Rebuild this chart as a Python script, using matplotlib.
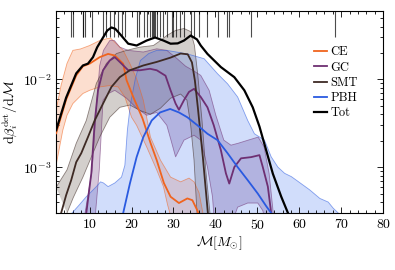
import numpy as np
import matplotlib
matplotlib.use("Agg")
import matplotlib.pyplot as plt
from matplotlib.ticker import MultipleLocator, LogLocator, NullFormatter
import matplotlib.transforms as mtransforms

plt.rcParams["font.family"] = "serif"
plt.rcParams["font.serif"] = ["cmr10", "DejaVu Serif"]
plt.rcParams["mathtext.fontset"] = "cm"
plt.rcParams["axes.formatter.use_mathtext"] = True

# ---------------------------------------------------------------------------
# Data  (chirp mass in M_sun, dbeta/dM)
# ---------------------------------------------------------------------------
rug_M = [5.6, 6.0, 8.3, 8.5, 8.8, 10.5, 13.3, 14.0, 14.9, 15.8, 16.7, 17.8,
         18.5, 21.2, 21.8, 22.9, 23.7, 24.5, 24.8, 25.1, 25.4, 25.7, 26.0,
         26.8, 27.6, 28.5, 29.6, 30.0, 30.5, 31.6, 32.5, 34.1, 34.8, 36.2,
         38.1, 40.5, 42.7, 43.3, 48.5, 68.5]

tot_M = [2.0, 4.4, 6.8, 8.4, 9.6, 10.8, 11.8, 13.2, 14.2, 15.2, 16.1, 17.2,
         19.2, 21.2, 23.6, 25.6, 27.6, 29.3, 31.0, 32.5, 34.1, 35.6, 36.5,
         38.1, 41.3, 44.5, 46.9, 48.9, 50.5, 52.1, 53.7, 55.7, 57.3]
tot_v = [2.63e-3, 6.2e-3, 1.17e-2, 1.44e-2, 1.51e-2, 1.79e-2, 2.32e-2, 3.0e-2,
         3.6e-2, 3.9e-2, 3.77e-2, 3.3e-2, 2.55e-2, 2.43e-2, 2.77e-2, 3.0e-2,
         2.77e-2, 2.55e-2, 2.57e-2, 2.77e-2, 3.16e-2, 2.85e-2, 2.43e-2,
         1.95e-2, 1.38e-2, 1.06e-2, 7.5e-3, 4.8e-3, 2.9e-3, 1.56e-3, 8.4e-4,
         4.6e-4, 3.0e-4]

ce_M = [2.0, 4.4, 6.8, 8.4, 10.0, 12.4, 14.4, 16.0, 18.0, 18.8, 20.4, 22.6,
        24.5, 26.0, 27.7, 29.3, 31.3, 33.3, 34.5, 35.7, 36.3]
ce_v = [2.43e-3, 5.9e-3, 1.11e-2, 1.41e-2, 1.51e-2, 1.79e-2, 1.95e-2, 1.87e-2,
        1.51e-2, 9.8e-3, 6.3e-3, 3.6e-3, 1.9e-3, 1.2e-3, 6.6e-4, 4.6e-4,
        3.9e-4, 4.4e-4, 4.2e-4, 3.2e-4, 2.6e-4]
ce_hi_M = [2.0, 3.2, 4.6, 6.0, 7.8, 10.0, 12.4, 14.0, 15.0, 16.0, 18.0, 19.6,
           21.2, 22.8, 23.6, 24.5, 26.9, 29.3, 31.7, 33.7, 34.9, 36.1, 36.9,
           37.3]
ce_hi_v = [4.45e-3, 8.6e-3, 1.52e-2, 2.14e-2, 2.22e-2, 2.43e-2, 2.77e-2,
           2.9e-2, 2.95e-2, 2.65e-2, 2.14e-2, 1.51e-2, 1.02e-2, 5.8e-3, 3.7e-3,
           2.2e-3, 1.2e-3, 7.7e-4, 6.8e-4, 7.5e-4, 6.8e-4, 5.1e-4, 3.2e-4,
           2.5e-4]
ce_lo_M = [2.0, 3.6, 4.6, 6.0, 8.4, 10.0, 12.4, 14.8, 16.8, 18.4, 20.0, 21.2,
           23.6, 26.0, 27.6, 28.6, 29.3]
ce_lo_v = [1.05e-3, 2.63e-3, 3.9e-3, 5.3e-3, 6.9e-3, 7.5e-3, 8.2e-3, 8.5e-3,
           8.2e-3, 6.3e-3, 3.7e-3, 3.0e-3, 1.7e-3, 9.3e-4, 6.0e-4, 3.7e-4,
           2.8e-4]

gc_M = [9.2, 10.4, 11.2, 12.0, 13.2, 14.8, 16.0, 17.6, 19.2, 22.0, 24.4, 26.0,
        28.1, 29.3, 30.5, 31.3, 32.5, 33.7, 34.9, 36.5, 38.1, 39.6, 41.3,
        42.5, 43.3, 44.5, 46.1, 48.5, 50.5, 51.3, 52.5, 53.3]
gc_v = [3.0e-4, 8.5e-4, 3.2e-3, 7.5e-3, 1.27e-2, 1.64e-2, 1.79e-2, 1.51e-2,
        1.27e-2, 1.27e-2, 1.32e-2, 1.27e-2, 1.1e-2, 7.5e-3, 5.3e-3, 4.5e-3,
        5.8e-3, 7.2e-3, 7.8e-3, 6.3e-3, 4.8e-3, 3.0e-3, 1.56e-3, 8.5e-4,
        6.5e-4, 1.0e-3, 1.26e-3, 1.3e-3, 1.37e-3, 1.0e-3, 6.0e-4, 3.0e-4]
gc_hi_M = [8.9, 10.6, 11.6, 12.4, 13.3, 14.8, 15.9, 17.2, 19.2, 22.8, 26.0,
           28.4, 30.8, 32.9, 34.6, 36.5, 38.5, 40.1, 42.0, 43.7, 45.4, 47.8,
           50.2, 51.6, 52.8, 53.8]
gc_hi_v = [3.0e-4, 9.3e-4, 4.8e-3, 1.44e-2, 2.14e-2, 2.77e-2, 2.77e-2,
           2.33e-2, 2.14e-2, 2.05e-2, 2.23e-2, 2.14e-2, 1.73e-2, 1.41e-2,
           1.27e-2, 1.11e-2, 7.5e-3, 3.9e-3, 2.03e-3, 1.78e-3, 1.87e-3,
           2.03e-3, 2.2e-3, 1.7e-3, 8.5e-4, 3.0e-4]
gc_lo_M = [11.4, 12.3, 13.2, 14.5, 16.0, 18.8, 21.2, 23.6, 26.0, 28.4, 29.4,
           30.5, 32.5, 34.9, 36.5, 38.1, 39.3, 39.9, 42.5, 44.2, 45.3, 47.7,
           50.1, 51.3, 52.1, 53.3]
gc_lo_v = [3.0e-4, 9.3e-4, 5.8e-3, 6.9e-3, 7.5e-3, 6.1e-3, 4.7e-3, 3.9e-3,
           4.2e-3, 3.0e-3, 2.03e-3, 1.31e-3, 2.03e-3, 2.31e-3, 2.03e-3,
           1.0e-3, 4.6e-4, 1.9e-4, 1.5e-4, 2.5e-4, 3.5e-4, 3.9e-4, 3.9e-4,
           3.2e-4, 2.2e-4, 1.5e-4]

smt_M = [3.2, 4.4, 5.6, 6.8, 8.0, 9.6, 11.2, 13.2, 15.2, 17.2, 19.6, 22.8,
         26.0, 29.3, 31.7, 33.4, 34.4, 35.1, 35.8, 37.0, 38.2]
smt_v = [3.0e-4, 4.8e-4, 7.1e-4, 1.14e-3, 1.44e-3, 2.2e-3, 3.4e-3, 5.3e-3,
         8.2e-3, 1.06e-2, 1.27e-2, 1.44e-2, 1.58e-2, 1.77e-2, 1.97e-2,
         1.93e-2, 1.56e-2, 9.7e-3, 4.8e-3, 1.3e-3, 3.0e-4]
smt_hi_M = [2.0, 4.6, 6.8, 9.2, 11.6, 14.0, 16.4, 18.8, 22.0, 25.2, 26.9,
            28.4, 30.5, 32.5, 34.1, 35.0, 35.8, 36.8, 37.7, 38.7]
smt_hi_v = [5.9e-4, 9.3e-4, 1.87e-3, 3.4e-3, 9.0e-3, 1.52e-2, 1.97e-2,
            2.14e-2, 2.33e-2, 2.43e-2, 2.77e-2, 3.16e-2, 3.61e-2, 3.8e-2,
            3.5e-2, 2.43e-2, 1.11e-2, 3.4e-3, 9.3e-4, 3.0e-4]
smt_lo_M = [4.6, 6.1, 8.4, 10.4, 12.4, 14.8, 17.2, 19.6, 22.1, 24.5, 26.9,
            29.3, 31.7, 33.2, 34.1, 34.9, 35.6]
smt_lo_v = [3.0e-4, 4.5e-4, 7.7e-4, 1.3e-3, 2.2e-3, 3.7e-3, 4.8e-3, 5.1e-3,
            4.4e-3, 4.0e-3, 4.7e-3, 6.1e-3, 6.8e-3, 5.8e-3, 3.0e-3, 1.2e-3,
            3.0e-4]

pbh_M = [18.0, 19.6, 21.2, 22.8, 24.8, 26.8, 29.2, 31.3, 33.3, 35.7, 38.1,
         40.5, 42.9, 45.3, 47.7, 50.1, 52.1, 53.3]
pbh_v = [3.0e-4, 6.5e-4, 1.3e-3, 2.2e-3, 3.4e-3, 4.2e-3, 4.6e-3, 4.2e-3,
         3.7e-3, 3.0e-3, 2.4e-3, 2.03e-3, 1.44e-3, 1.0e-3, 7.1e-4, 5.0e-4,
         3.6e-4, 3.0e-4]
pbh_hi_M = [5.8, 7.5, 9.2, 11.6, 12.6, 13.3, 14.4, 16.0, 17.6, 18.4, 19.0,
            19.7, 20.9, 22.1, 24.1, 26.0, 28.4, 33.3, 37.3, 40.5, 42.9, 45.3,
            47.7, 49.3, 51.7, 53.3, 54.9, 56.5, 58.1, 59.3, 62.5, 64.9, 66.9,
            68.1, 69.3, 70.1]
pbh_hi_v = [3.0e-4, 3.7e-4, 4.6e-4, 6.0e-4, 6.8e-4, 6.6e-4, 6.0e-4, 6.6e-4,
            7.7e-4, 1.05e-3, 2.63e-3, 5.1e-3, 1.02e-2, 1.64e-2, 1.97e-2,
            2.14e-2, 2.14e-2, 1.95e-2, 1.72e-2, 1.16e-2, 8.9e-3, 6.3e-3,
            3.4e-3, 2.4e-3, 2.03e-3, 1.31e-3, 1.0e-3, 8.5e-4, 7.8e-4, 7.1e-4,
            5.5e-4, 4.4e-4, 4.0e-4, 3.4e-4, 3.0e-4, 2.5e-4]
pbh_lo_M = [5.8, 70.1]
pbh_lo_v = [1.0e-4, 1.0e-4]

# ---------------------------------------------------------------------------
# Styles
# ---------------------------------------------------------------------------
channels = [
    # label, median, hi, lo, line colour, fill colour, fill alpha
    ("CE", (ce_M, ce_v), (ce_hi_M, ce_hi_v), (ce_lo_M, ce_lo_v),
     "#f0641e", "#f58a55", 0.28),
    ("GC", (gc_M, gc_v), (gc_hi_M, gc_hi_v), (gc_lo_M, gc_lo_v),
     "#6e2f72", "#7a4a88", 0.30),
    ("SMT", (smt_M, smt_v), (smt_hi_M, smt_hi_v), (smt_lo_M, smt_lo_v),
     "#3e2a24", "#6e6058", 0.30),
    ("PBH", (pbh_M, pbh_v), (pbh_hi_M, pbh_hi_v), (pbh_lo_M, pbh_lo_v),
     "#2a5ae0", "#4a78f0", 0.25),
]

fig = plt.figure(figsize=(3.95, 2.70), dpi=100)
ax = fig.add_axes([0.142, 0.211, 0.828, 0.748])

for label, med, hi, lo, lc, fc, fa in channels:
    xs = list(hi[0]) + list(lo[0])[::-1]
    ys = list(hi[1]) + list(lo[1])[::-1]
    ax.fill(xs, ys, color=fc, alpha=fa, lw=0, zorder=1)
    ax.plot(hi[0], hi[1], color=lc, lw=0.6, alpha=0.55, zorder=2)
    ax.plot(lo[0], lo[1], color=lc, lw=0.6, alpha=0.55, zorder=2)

for label, med, hi, lo, lc, fc, fa in channels:
    ax.plot(med[0], med[1], color=lc, lw=1.3, label=label, zorder=3)

ax.plot(tot_M, tot_v, color="black", lw=1.6, label="Tot", zorder=4)

# observed events (rug at the top)
trans = mtransforms.blended_transform_factory(ax.transData, ax.transAxes)
ax.vlines(rug_M, 0.87, 1.0, transform=trans, color="black", lw=0.8,
          alpha=0.7, zorder=5)

ax.set_yscale("log")
ax.set_xlim(2, 80)
ax.set_ylim(3e-4, 6e-2)
ax.xaxis.set_major_locator(MultipleLocator(10))
ax.xaxis.set_minor_locator(MultipleLocator(2))
ax.yaxis.set_major_locator(LogLocator(base=10, numticks=10))
ax.yaxis.set_minor_locator(LogLocator(base=10, subs=np.arange(2, 10), numticks=10))
ax.yaxis.set_minor_formatter(NullFormatter())
ax.tick_params(which="both", direction="in", top=True, right=True,
               labelsize=10, width=0.6)
ax.tick_params(which="major", length=4.5)
ax.tick_params(which="minor", length=2.5)
for sp in ax.spines.values():
    sp.set_linewidth(0.8)

ax.set_xlabel(r"$\mathcal{M}[M_{\odot}]$", fontsize=10, labelpad=2)
ax.set_ylabel(r"$\mathrm{d}\beta_i^{\rm det}/\mathrm{d}\mathcal{M}$",
              fontsize=10, labelpad=2)

ax.legend(loc="upper left", bbox_to_anchor=(308 / 395, 1 - 40 / 270),
          bbox_transform=fig.transFigure, frameon=False, fontsize=9,
          handlelength=1.0, handletextpad=0.3, labelspacing=0.25,
          borderpad=0.0)

fig.savefig("out.png", dpi=100)
